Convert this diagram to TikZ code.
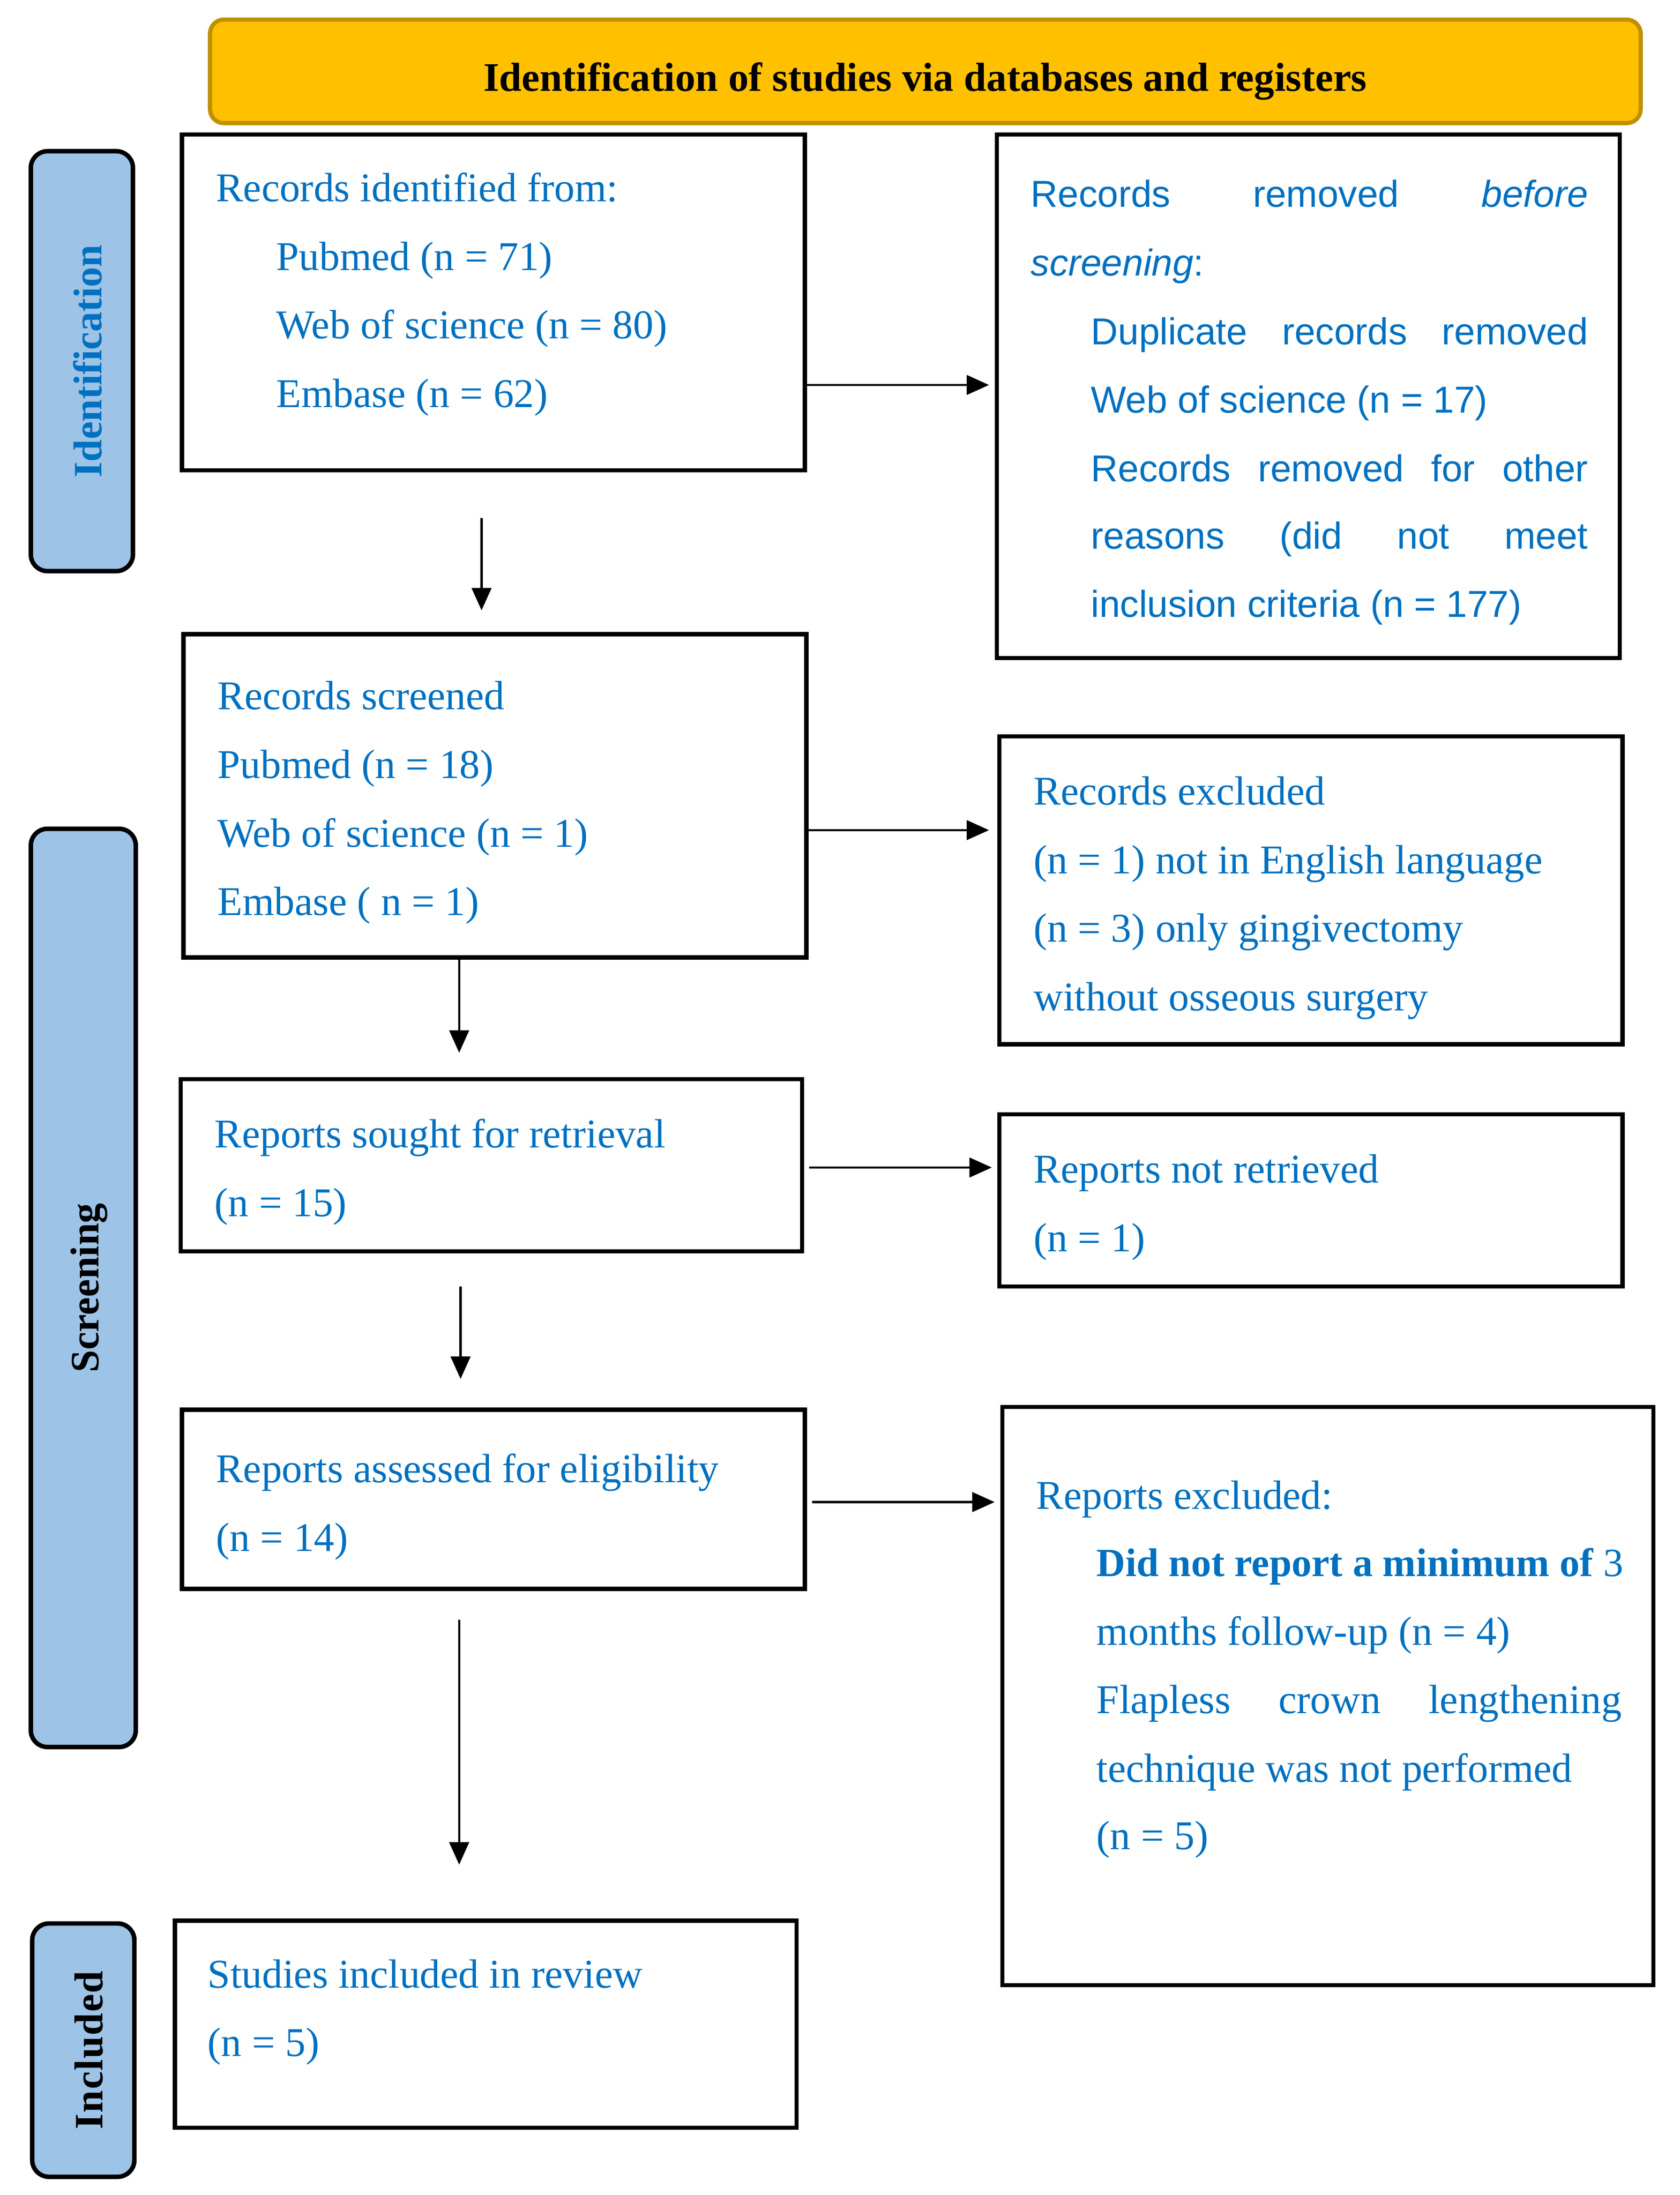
\documentclass[tikz,border=0pt]{standalone}
\usepackage{fontspec}
\setmainfont{Liberation Serif}
\setsansfont{Liberation Sans}
\usetikzlibrary{arrows.meta,fit}
\definecolor{tblue}{HTML}{0070C0}
\definecolor{sfill}{HTML}{9DC3E6}
\definecolor{tfill}{HTML}{FFC000}
\definecolor{tdraw}{HTML}{BF9000}
\begin{document}
\begin{tikzpicture}[x=0.5pt,y=-0.5pt,
  box/.style={draw=black,line width=1.5pt,inner sep=0pt},
  side/.style={draw=black,line width=1.6pt,fill=sfill,rounded corners=6pt,inner sep=0pt},
  lbl/.style={anchor=base west,inner sep=0pt,text=tblue,font=\fontsize{14.6}{16}\selectfont},
  slbl/.style={anchor=base west,inner sep=0pt,text=tblue,font=\sffamily\fontsize{13.4}{15}\selectfont},
  sidetext/.style={rotate=90,inner sep=0pt,font=\bfseries\fontsize{14.4}{16}\selectfont},
  arr/.style={line width=0.8pt,-{Triangle[length=8pt,width=7pt]}}]
\useasboundingbox (0,0) rectangle (1200,1568);

% title
\node[fit={(150,14) (1172,88)},draw=tdraw,fill=tfill,line width=1.5pt,rounded corners=5pt,inner sep=0pt] (title) {};
\node[inner sep=0pt,font=\bfseries\fontsize{14.5}{16}\selectfont] (titletext) at ([yshift=-3.5pt]title.center) {Identification of studies via databases and registers};

% side labels
\node[side,fit={(22,108) (95,408)}] (sid) {};
\node[sidetext,text=tblue] (sidt) at ([xshift=2pt]sid.center) {Identification};
\node[side,fit={(22,592) (97,1248)}] (sscr) {};
\node[sidetext] (sscrt) at ([xshift=2pt]sscr.center) {Screening};
\node[side,fit={(23,1374) (96,1555)}] (sinc) {};
\node[sidetext] (sinct) at ([xshift=2pt]sinc.center) {I\hspace{0.3pt}n\hspace{0.3pt}c\hspace{0.3pt}l\hspace{0.3pt}u\hspace{0.3pt}d\hspace{0.3pt}e\hspace{0.3pt}d};

% boxes
\node[box,fit={(130,96) (575,336)}] (b1) {};
\node[box,fit={(712,96) (1157,470)}] (r1) {};
\node[box,fit={(131,453) (576,684)}] (b2) {};
\node[box,fit={(714,526) (1159,746)}] (r2) {};
\node[box,fit={(129,771) (573,894)}] (b3) {};
\node[box,fit={(714,796) (1159,919)}] (r3) {};
\node[box,fit={(130,1007) (575,1135)}] (b4) {};
\node[box,fit={(716,1005) (1181,1418)}] (r4) {};
\node[box,fit={(125,1372) (569,1520)}] (b5) {};

% text b1
\node[lbl] (t11) at (154,144) {Records identified from:};
\node[lbl] (t12) at (197,193) {Pubmed (n = 71)};
\node[lbl] (t13) at (197,242) {Web of science (n = 80)};
\node[lbl] (t14) at (197,291) {Embase (n = 62)};
% text r1
\node[slbl] (u11) at (736,148) {\makebox[199pt][s]{Records removed \textit{before}}};
\node[slbl] (u12) at (736,197) {\textit{screening}:};
\node[slbl] (u13) at (779,246) {\makebox[177.5pt][s]{Duplicate records removed}};
\node[slbl] (u14) at (779,295) {Web of science (n = 17)};
\node[slbl] (u15) at (779,344) {\makebox[177.5pt][s]{Records removed for other}};
\node[slbl] (u16) at (779,392) {\makebox[177.5pt][s]{reasons (did not meet}};
\node[slbl] (u17) at (779,441) {inclusion criteria (n = 177)};
% text b2
\node[lbl] (t21) at (155,507) {Records screened};
\node[lbl] (t22) at (155,556) {Pubmed (n = 18)};
\node[lbl] (t23) at (155,605) {Web of science (n = 1)};
\node[lbl] (t24) at (155,654) {Embase ( n = 1)};
% text r2
\node[lbl] (u21) at (738,575) {Records excluded};
\node[lbl] (u22) at (738,624) {(n = 1) not in English language};
\node[lbl] (u23) at (738,673) {(n = 3) only gingivectomy};
\node[lbl] (u24) at (738,722) {without osseous surgery};
% text b3
\node[lbl] (t31) at (153,820) {Reports sought for retrieval};
\node[lbl] (t32) at (153,869) {(n = 15)};
% text r3
\node[lbl] (u31) at (738,845) {Reports not retrieved};
\node[lbl] (u32) at (738,894) {(n = 1)};
% text b4
\node[lbl] (t41) at (154,1059) {Reports assessed for eligibility};
\node[lbl] (t42) at (154,1108) {(n = 14)};
% text r4
\node[lbl] (u41) at (740,1078) {Reports excluded:};
\node[lbl,font=\fontsize{14.3}{16}\selectfont] (u42) at (783,1126) {\textbf{Did not report a minimum of} 3};
\node[lbl] (u43) at (783,1175) {months follow-up (n = 4)};
\node[lbl] (u44) at (783,1224) {\makebox[187.5pt][s]{Flapless crown lengthening}};
\node[lbl] (u45) at (783,1273) {technique was not performed};
\node[lbl] (u46) at (783,1321) {(n = 5)};
% text b5
\node[lbl] (t51) at (148,1420) {Studies included in review};
\node[lbl] (t52) at (148,1469) {(n = 5)};

% horizontal arrows
\coordinate (h1) at (576,275);
\draw[arr] (h1) -- ([xshift=-2pt]h1 -| r1.west);
\coordinate (h2) at (576,593);
\draw[arr] (h2) -- ([xshift=-3pt]h2 -| r2.west);
\coordinate (h3) at (578,834);
\draw[arr] (h3) -- ([xshift=-2pt]h3 -| r3.west);
\coordinate (h4) at (580,1073);
\draw[arr] (h4) -- ([xshift=-2pt]h4 -| r4.west);

% vertical arrows
\coordinate (v1s) at (344,370);
\coordinate (v1e) at (344,436);
\draw[arr] (v1s) -- (v1e);
\coordinate (v2s) at (328,684);
\coordinate (v2e) at (328,752);
\draw[arr] (v2s) -- (v2e);
\coordinate (v3s) at (329,919);
\coordinate (v3e) at (329,985);
\draw[arr] (v3s) -- (v3e);
\coordinate (v4s) at (328,1157);
\coordinate (v4e) at (328,1332);
\draw[arr] (v4s) -- (v4e);
\end{tikzpicture}
\end{document}
